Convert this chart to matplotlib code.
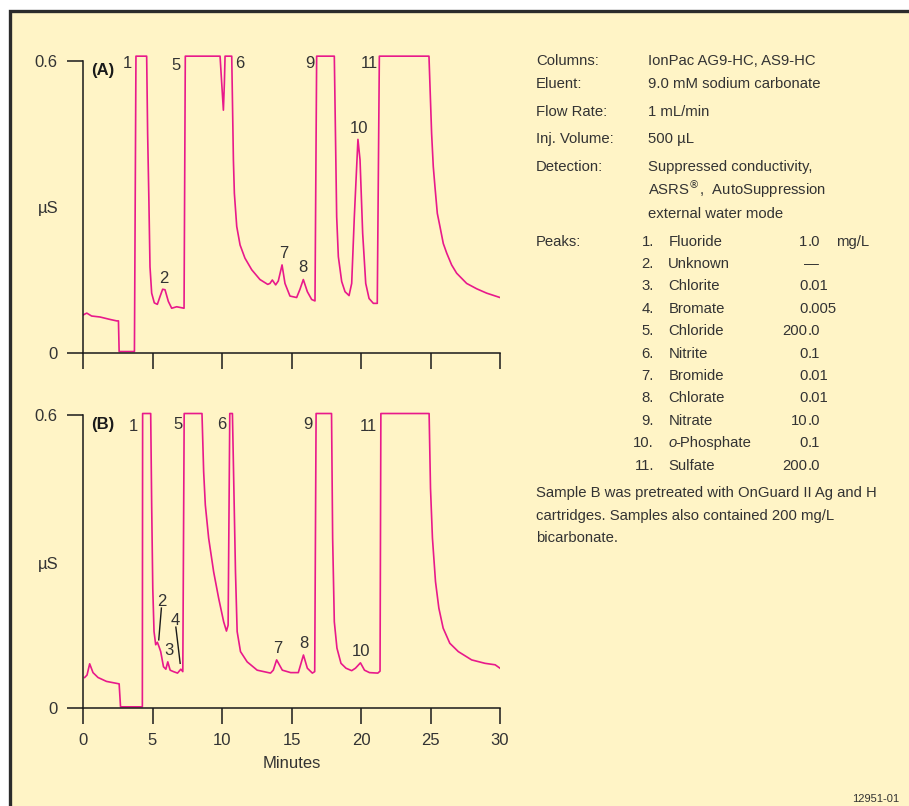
import matplotlib
matplotlib.use("Agg")
import matplotlib.pyplot as plt
from matplotlib import font_manager
from matplotlib.patches import Rectangle

# trace (A) - minutes / uS
tA = [0.0, 0.27, 0.62, 1.22, 1.94, 2.42, 2.55, 2.6, 3.7, 3.81, 4.58, 4.65, 4.74, 4.82, 4.94, 5.13,
      5.35, 5.54, 5.73, 5.9, 6.14, 6.38, 6.74, 7.27, 7.36,
      9.86, 9.98, 10.1, 10.17, 10.22, 10.7, 10.77, 10.82, 10.89, 11.06, 11.3, 11.65, 12.14, 12.73,
      13.29, 13.45, 13.62, 13.86, 14.05, 14.32, 14.53, 14.89, 15.37, 15.61, 15.85, 16.14, 16.45,
      16.69, 16.81, 18.08, 18.18, 18.25, 18.37, 18.61, 18.85, 19.14, 19.33, 19.52, 19.78, 19.93,
      20.12, 20.34, 20.58, 20.89, 21.17, 21.32, 24.89, 25.08, 25.2, 25.32, 25.49, 25.68, 25.92,
      26.17, 26.52, 26.88, 27.6, 28.32, 29.04, 30.0]
yA = [0.078, 0.082, 0.076, 0.074, 0.069, 0.066, 0.066, 0.003, 0.003, 0.61, 0.61, 0.451, 0.314, 0.177, 0.123, 0.103,
      0.1, 0.116, 0.131, 0.13, 0.106, 0.092, 0.095, 0.092, 0.61,
      0.61, 0.554, 0.499, 0.554, 0.61, 0.61, 0.486, 0.397, 0.328, 0.26, 0.222, 0.195, 0.171, 0.151,
      0.141, 0.143, 0.15, 0.14, 0.148, 0.181, 0.143, 0.117, 0.114, 0.131, 0.151, 0.126, 0.11,
      0.107, 0.61, 0.61, 0.417, 0.28, 0.198, 0.147, 0.126, 0.118, 0.143, 0.28, 0.439, 0.397,
      0.246, 0.143, 0.112, 0.102, 0.102, 0.61, 0.61, 0.451, 0.383, 0.342, 0.287, 0.26, 0.225,
      0.205, 0.181, 0.164, 0.143, 0.132, 0.123, 0.114]

# trace (B)
tB = [0.12, 0.29, 0.48, 0.72, 1.08, 1.69, 2.6, 2.7, 4.27, 4.29, 4.87, 4.94, 5.02, 5.11, 5.23, 5.35,
      5.47, 5.59, 5.79, 5.96, 6.1, 6.27, 6.51, 6.8, 7.04, 7.18, 7.28, 8.56, 8.68, 8.8, 9.04, 9.4,
      9.76, 10.12, 10.32, 10.44, 10.56, 10.75, 10.97, 11.09, 11.33, 11.81, 12.53, 13.49, 13.69,
      13.93, 14.34, 14.94, 15.49, 15.86, 16.14, 16.5, 16.67, 16.77, 17.88, 17.96, 18.08, 18.27,
      18.56, 18.92, 19.33, 19.6, 19.96, 20.25, 20.61, 21.21, 21.37, 21.43, 24.9, 25.0, 25.14,
      25.36, 25.6, 25.91, 26.39, 27.0, 27.96, 28.92, 29.65, 30.0]
yB = [0.063, 0.068, 0.091, 0.073, 0.063, 0.055, 0.05, 0.003, 0.003, 0.603, 0.603, 0.416, 0.245, 0.157, 0.13, 0.135,
      0.126, 0.116, 0.085, 0.08, 0.095, 0.078, 0.075, 0.072, 0.08, 0.075, 0.603, 0.603, 0.484, 0.416, 0.348, 0.279,
      0.225, 0.177, 0.158, 0.17, 0.603, 0.603, 0.279, 0.157, 0.116, 0.095, 0.078, 0.072, 0.078,
      0.099, 0.078, 0.073, 0.073, 0.109, 0.082, 0.072, 0.075, 0.603, 0.603, 0.348, 0.177, 0.123,
      0.092, 0.082, 0.077, 0.082, 0.093, 0.078, 0.073, 0.072, 0.076, 0.603, 0.603, 0.45, 0.348,
      0.259, 0.205, 0.164, 0.133, 0.116, 0.099, 0.092, 0.089, 0.082]

# peak labels: (text, minutes, uS)
labels_A = [("1", 3.22, 0.595), ("5", 6.69, 0.591), ("6", 11.25, 0.595), ("9", 16.33, 0.595),
            ("11", 20.58, 0.595), ("10", 19.85, 0.462), ("7", 14.41, 0.204), ("8", 15.85, 0.175),
            ("2", 5.78, 0.153)]
labels_B = [("1", 3.62, 0.576), ("5", 6.8, 0.58), ("6", 9.99, 0.58), ("9", 16.2, 0.58),
            ("11", 20.56, 0.576), ("7", 14.03, 0.123), ("8", 15.9, 0.132), ("10", 20.0, 0.116),
            ("2", 5.67, 0.218), ("3", 6.2, 0.119), ("4", 6.61, 0.179)]

conditions = [("Columns:", ["IonPac AG9-HC, AS9-HC"]),
              ("Eluent:", ["9.0 mM sodium carbonate"]),
              ("Flow Rate:", ["1 mL/min"]),
              ("Inj. Volume:", ["500 µL"]),
              ("Detection:", ["Suppressed conductivity,", "ASRS$^{®}$,  AutoSuppression",
                              "external water mode"])]
peak_names = ["Fluoride", "Unknown", "Chlorite", "Bromate", "Chloride", "Nitrite", "Bromide",
              "Chlorate", "Nitrate", "-Phosphate", "Sulfate"]
peak_conc = ["1.0", "—", "0.01", "0.005", "200.0", "0.1", "0.01", "0.01", "10.0", "0.1", "200.0"]
note = ["Sample B was pretreated with OnGuard II Ag and H",
        "cartridges. Samples also contained 200 mg/L",
        "bicarbonate."]

names = {f.name for f in font_manager.fontManager.ttflist}
fam = "Liberation Sans Narrow" if "Liberation Sans Narrow" in names else "Liberation Sans"
plt.rcParams["font.family"] = [fam, "DejaVu Sans"]

W, H = 909, 806
PINK = "#e8198b"
TXT = "#333333"
BG = "#fff4c6"
FS = 12     # axis text
FR = 10.7   # right-hand text block


def px(x, y):
    return x / W, 1 - y / H


fig = plt.figure(figsize=(W / 100, H / 100), dpi=100)
fig.patch.set_facecolor("white")
# cream frame, top edge at y=11 px, left edge at x=9.5 px
fig.patches.append(Rectangle((9.5 / W, 1 - 11 / H - 1.2), 1.2, 1.2, transform=fig.transFigure,
                             facecolor=BG, edgecolor="#2b2b2b", linewidth=2.4, zorder=-1))


def panel(rect, t, y, labels, tag, show_x):
    ax = fig.add_axes(rect)
    ax.set_zorder(2)
    ax.set_facecolor("none")
    ax.plot(t, y, color=PINK, lw=1.2)
    ax.set_xlim(0, 30)
    ax.set_ylim(0, 0.62)
    for s in ["top", "right"]:
        ax.spines[s].set_visible(False)
    ax.spines["left"].set_bounds(0, 0.6)
    for s in ["left", "bottom"]:
        ax.spines[s].set_linewidth(1.1)
        ax.spines[s].set_color("#1a1a1a")
    ax.set_yticks([0, 0.6])
    ax.set_yticklabels(["0", "0.6"])
    ax.set_xticks(range(0, 31, 5))
    ax.tick_params(direction="out", length=11.5, width=1.1, color="#1a1a1a",
                   labelsize=FS, labelcolor=TXT)
    ax.tick_params(axis="y", pad=7)
    ax.tick_params(axis="x", pad=6)
    if not show_x:
        ax.set_xticklabels([])
    else:
        ax.set_xlabel("Minutes", fontsize=FS, color=TXT, labelpad=6)
    for txt, xx, yy in labels:
        ax.text(xx, yy, txt, fontsize=FS, color=TXT, ha="center", va="center")
    ax.text(1.39, 0.581, tag, fontsize=FS, fontweight="bold", color="#1a1a1a",
            ha="center", va="center")
    return ax


axA = panel([83 / W, 1 - 353 / H, 417 / W, 301.7 / H], tA, yA, labels_A, "(A)", False)
axB = panel([83 / W, 1 - 708.3 / H, 417 / W, 303.1 / H], tB, yB, labels_B, "(B)", True)

# leader lines for peaks 2 and 4 in (B)
axB.plot([5.64, 5.45], [0.205, 0.140], color="#1a1a1a", lw=1.0)
axB.plot([6.68, 6.99], [0.166, 0.092], color="#1a1a1a", lw=1.0)

fig.text(*px(48, 209), "µS", fontsize=FS, color=TXT, ha="center", va="center")
fig.text(*px(48, 565), "µS", fontsize=FS, color=TXT, ha="center", va="center")

# conditions text
rows_y = [60.7, 84.3, 112.3, 139.3, 166.7]
for (lab, vals), yy in zip(conditions, rows_y):
    fig.text(*px(536, yy), lab, fontsize=FR, color=TXT, va="center")
    for k, v in enumerate(vals):
        yk = yy + [0, 22.6, 47.3][k]
        fig.text(*px(648.3, yk), v, fontsize=FR, color=TXT, va="center")

fig.text(*px(536, 241.7), "Peaks:", fontsize=FR, color=TXT, va="center")
dot_x = 807.3
for i, (nm, c) in enumerate(zip(peak_names, peak_conc)):
    yy = 241.7 + 22.4 * i
    fig.text(*px(654, yy), f"{i + 1}.", fontsize=FR, color=TXT, va="center", ha="right")
    if nm.startswith("-"):
        fig.text(*px(668.3, yy), "o", fontsize=FR, color=TXT, va="center", style="italic")
        fig.text(*px(675.5, yy), nm, fontsize=FR, color=TXT, va="center")
    else:
        fig.text(*px(668.3, yy), nm, fontsize=FR, color=TXT, va="center")
    if "." in c:
        whole, frac = c.split(".")
        fig.text(*px(dot_x, yy), whole, fontsize=FR, color=TXT, va="center", ha="right")
        fig.text(*px(dot_x, yy), "." + frac, fontsize=FR, color=TXT, va="center", ha="left")
    else:
        fig.text(*px(811.7, yy), c, fontsize=FR, color=TXT, va="center", ha="center")
fig.text(*px(835.7, 241.7), "mg/L", fontsize=FR, color=TXT, va="center")

for k, line in enumerate(note):
    fig.text(*px(536, 493.3 + 22.5 * k), line, fontsize=FR, color=TXT, va="center")

fig.text(*px(899, 799), "12951-01", fontsize=8, color=TXT, va="center", ha="right")

fig.savefig("out.png", dpi=100, facecolor=fig.get_facecolor())
